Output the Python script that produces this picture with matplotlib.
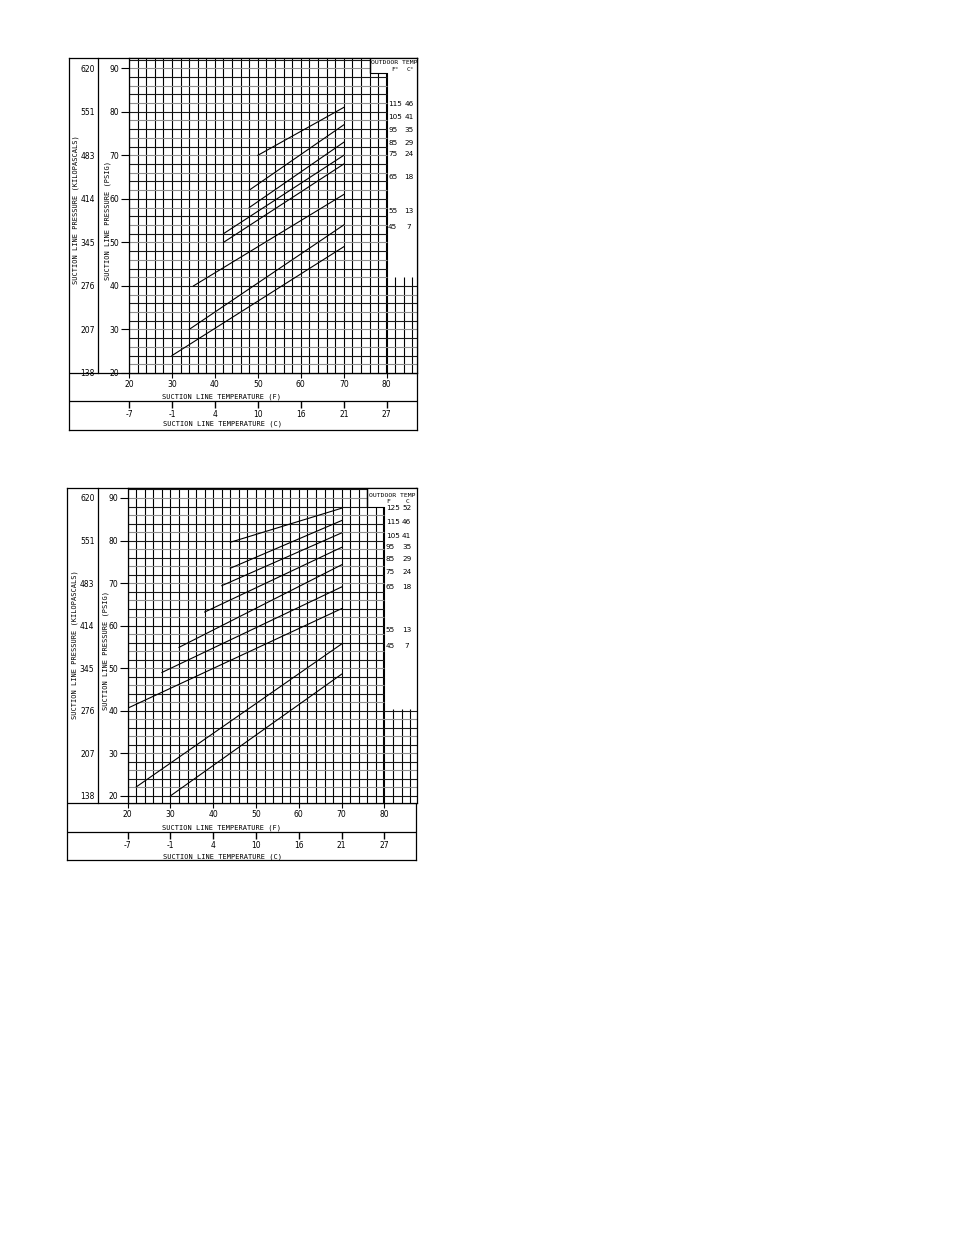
import matplotlib
matplotlib.use("Agg")
import matplotlib.pyplot as plt
import numpy as np

# ---- data ----
psig_ticks = [20, 30, 40, 50, 60, 70, 80, 90]
kpa_labels = ["138", "207", "276", "345", "414", "483", "551", "620"]
f_ticks = [20, 30, 40, 50, 60, 70, 80]
c_labels = ["-7", "-1", "4", "10", "16", "21", "27"]

# upper chart: one line per outdoor temperature
top_outdoor_f = [115, 105, 95, 85, 75, 65, 55, 45]
top_outdoor_c = [46, 41, 35, 29, 24, 18, 13, 7]
top_x0 = [50, 48, 48, 42, 42, 35, 34, 30]
top_y0 = [70, 62, 58, 52, 50, 40, 30, 24]
top_x1 = [70, 70, 70, 70, 70, 70, 70, 70]
top_y1 = [81, 77, 73, 70, 68, 61, 54, 49]
top_label_psig = [81.8, 78.7, 75.9, 72.9, 70.2, 65.0, 57.2, 53.5]

# lower chart
bot_outdoor_f = [125, 115, 105, 95, 85, 75, 65, 55, 45]
bot_outdoor_c = [52, 46, 41, 35, 29, 24, 18, 13, 7]
bot_x0 = [44, 44, 42, 38, 32, 28, 20, 22, 30]
bot_y0 = [79.6, 73.5, 69.4, 63.2, 54.9, 49.0, 40.6, 22.1, 20.0]
bot_x1 = [70, 70, 70, 70, 70, 70, 70, 70, 70]
bot_y1 = [87.6, 84.7, 81.8, 78.4, 74.3, 69.1, 64.0, 55.7, 48.6]
bot_label_psig = [87.6, 84.4, 81.1, 78.6, 75.7, 72.6, 69.1, 59.0, 55.2]

W, H = 954, 1235
MONO = "DejaVu Sans Mono"
NUM = ["Liberation Sans Narrow", "DejaVu Sans"]


def box(x0, y0, x1, y1):
    return [x0 / W, 1 - y1 / H, (x1 - x0) / W, (y1 - y0) / H]


def draw_chart(fig, lay, x0s, y0s, x1s, y1s, out_f, out_c, label_psig, fc_head):
    fx0, fy0, fx1, fy1 = lay["frame"]
    gx0, gy1 = lay["grid_x0"], lay["grid_bottom"]

    # outer frame and separators
    ax_f = fig.add_axes(box(fx0, fy0, fx1, fy1))
    ax_f.set_xlim(fx0, fx1)
    ax_f.set_ylim(fy1, fy0)
    ax_f.set_xticks([])
    ax_f.set_yticks([])
    for s in ax_f.spines.values():
        s.set_linewidth(0.9)
    ax_f.axhline(gy1, color="black", lw=0.9)
    ax_f.axhline(lay["sep"], color="black", lw=0.9)

    # kilopascal column
    ax_k = fig.add_axes(box(fx0, fy0, lay["div"], gy1))
    ax_k.patch.set_alpha(0)
    ax_k.set_ylim(lay["ylim"])
    ax_k.set_xticks([])
    for s in ["top", "bottom", "left"]:
        ax_k.spines[s].set_visible(False)
    ax_k.spines["right"].set_linewidth(0.9)
    ax_k.yaxis.tick_right()
    ax_k.set_yticks(psig_ticks, kpa_labels)
    ax_k.tick_params(axis="y", length=0, pad=-2.5, labelsize=5.5)
    for t in ax_k.get_yticklabels():
        t.set_ha("right")
        t.set_family(NUM)

    # main grid
    ax = fig.add_axes(box(gx0, fy0, fx1, gy1))
    ax.set_xlim(lay["xlim"])
    ax.set_ylim(lay["ylim"])
    xmax = lay["xlim"][1]
    ymax = lay["ylim"][1]
    head = lay["header"]
    floor = lay["floor"]
    for xv in np.arange(20, 87, 2):
        if xv <= 76:
            top = ymax
        elif xv <= 80:
            top = head
        else:
            top = floor
        lw = 1.5 if xv == 80 else 0.8
        ax.vlines(xv, lay["ylim"][0], top, color="black", lw=lw)
    for i, yv in enumerate(np.arange(20, 93, 2)):
        if yv < floor:
            right = xmax
        elif yv < head:
            right = 80
        else:
            right = 76
        col = "#1a1a1a" if i % 2 == 0 else "#8f8f8f"
        ax.hlines(yv, 20, right, color=col, lw=0.8)
    ax.hlines(head, 76, 80, color="black", lw=0.8)
    ax.vlines(76, head, ymax, color="black", lw=1.0)

    for xa, ya, xb, yb in zip(x0s, y0s, x1s, y1s):
        ax.plot([xa, xb], [ya, yb], color="black", lw=0.8)

    ax.set_xticks(f_ticks)
    ax.set_yticks(psig_ticks)
    ax.tick_params(axis="x", length=3.6, width=0.8, pad=1.5, labelsize=5.5)
    ax.tick_params(axis="y", length=6, width=0.8, pad=1, labelsize=5.5)
    for t in ax.get_xticklabels() + ax.get_yticklabels():
        t.set_family(NUM)
    for s in ax.spines.values():
        s.set_linewidth(0.9)

    # outdoor temperature key
    ax.text(76.3, lay["head_y"], "OUTDOOR TEMP", fontsize=4.6, family=MONO,
            ha="left", va="center")
    ax.text(lay["fcol"], lay["fc_y"], fc_head[0], fontsize=4.6, family=MONO,
            ha="center", va="center")
    ax.text(lay["ccol"], lay["fc_y"], fc_head[1], fontsize=4.6, family=MONO,
            ha="center", va="center")
    for f, c, yv in zip(out_f, out_c, label_psig):
        ax.text(80.3, yv, str(f), fontsize=5.2, family=NUM, ha="left", va="center")
        ax.text(85.2, yv, str(c), fontsize=5.2, family=NUM, ha="center", va="center")

    # celsius scale under the fahrenheit one
    ax_c = fig.add_axes(box(gx0, lay["sep"], fx1, lay["sep"] + 7))
    ax_c.patch.set_alpha(0)
    ax_c.set_xlim(lay["xlim"])
    ax_c.set_yticks([])
    for s in ax_c.spines.values():
        s.set_visible(False)
    ax_c.set_xticks(f_ticks, c_labels)
    ax_c.tick_params(axis="x", direction="in", length=5, width=1.0, pad=1.5,
                     labelsize=5.5)
    for t in ax_c.get_xticklabels():
        t.set_family(NUM)

    # axis titles
    tx, ty = lay["f_title"]
    fig.text(tx / W, 1 - ty / H, "SUCTION LINE TEMPERATURE (F)", fontsize=5,
             family=MONO, ha="center", va="center")
    tx, ty = lay["c_title"]
    fig.text(tx / W, 1 - ty / H, "SUCTION LINE TEMPERATURE (C)", fontsize=5,
             family=MONO, ha="center", va="center")
    tx, ty = lay["kpa_title"]
    fig.text(tx / W, 1 - ty / H, "SUCTION LINE PRESSURE (KILOPASCALS)", fontsize=5,
             family=MONO, ha="center", va="center", rotation=90)
    tx, ty = lay["psig_title"]
    fig.text(tx / W, 1 - ty / H, "SUCTION LINE PRESSURE (PSIG)", fontsize=5,
             family=MONO, ha="center", va="center", rotation=90)


top_layout = {
    "frame": (68.5, 58, 417, 430), "grid_x0": 129, "grid_bottom": 373,
    "div": 98.5, "sep": 401, "xlim": (20, 87.05), "ylim": (20, 92.35),
    "header": 88.8, "floor": 42, "head_y": 91.4, "fc_y": 89.7,
    "fcol": 81.9, "ccol": 85.5,
    "f_title": (222, 396.5), "c_title": (223, 423.3),
    "kpa_title": (75.3, 210), "psig_title": (107.5, 221),
}
bot_layout = {
    "frame": (67.5, 488, 416.5, 860), "grid_x0": 127.7, "grid_bottom": 803.3,
    "div": 98, "sep": 831.7, "xlim": (20, 87.5), "ylim": (18.25, 92.35),
    "header": 88.0, "floor": 40.5, "head_y": 90.5, "fc_y": 89.1,
    "fcol": 80.9, "ccol": 85.5,
    "f_title": (221.7, 828), "c_title": (222.5, 856.7),
    "kpa_title": (75, 645), "psig_title": (106, 651),
}

fig = plt.figure(figsize=(W / 100, H / 100), dpi=100)
draw_chart(fig, top_layout, top_x0, top_y0, top_x1, top_y1,
           top_outdoor_f, top_outdoor_c, top_label_psig, ("F°", "C°"))
draw_chart(fig, bot_layout, bot_x0, bot_y0, bot_x1, bot_y1,
           bot_outdoor_f, bot_outdoor_c, bot_label_psig, ("F", "C"))
fig.savefig("out.png", dpi=100)
